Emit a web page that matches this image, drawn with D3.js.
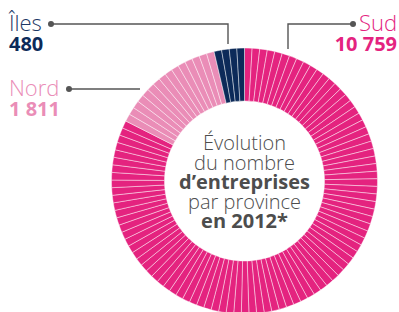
<!DOCTYPE html>
<html lang="fr">
<head>
  <meta charset="UTF-8">
  <title>Entreprises par province 2012</title>
  <style>
    body { margin: 0; background: #fff; font-family: "Open Sans", Arial, sans-serif; }
    svg { display: block; }
  </style>
</head>
<body>
<svg width="399" height="312"></svg>

<script src="https://d3js.org/d3.v7.min.js"></script>
<script>
  const provinces = ["Sud", "Nord", "Îles"];
  const values = [10759, 1811, 480];
  const valueLabels = ["10 759", "1 811", "480"];
  const colors = ["#e4237f", "#ea8db7", "#0c2a59"];
  const centerLines = [
    { t: "Évolution", bold: false },
    { t: "du nombre", bold: false },
    { t: "d’entreprises", bold: true },
    { t: "par province", bold: false },
    { t: "en 2012*", bold: true }
  ];
  // one small segment stands for about this many companies
  const unit = 120;

  const svg = d3.select("svg");
  const cx = 244.5, cy = 181, outerR = 133, innerR = 80;

  const g = svg.append("g").attr("transform", `translate(${cx},${cy})`);

  const pie = d3.pie().sort(null).value(d => d.value);
  const slices = pie(provinces.map((p, i) => ({ name: p, value: values[i], color: colors[i] })));

  const arc = d3.arc().innerRadius(innerR).outerRadius(outerR);

  // split every slice into equal thin segments
  const segs = [];
  slices.forEach(s => {
    const n = Math.max(1, Math.round(s.data.value / unit));
    const step = (s.endAngle - s.startAngle) / n;
    for (let k = 0; k < n; k++) {
      segs.push({ startAngle: s.startAngle + k * step, endAngle: s.startAngle + (k + 1) * step, color: s.data.color });
    }
  });

  g.selectAll("path.seg")
    .data(segs)
    .enter()
    .append("path")
    .attr("class", "seg")
    .attr("d", arc)
    .attr("fill", d => d.color)
    .attr("stroke", "rgba(255,255,255,0.55)")
    .attr("stroke-width", 0.8);

  // centre text
  const ct = g.append("text")
    .attr("text-anchor", "middle")
    .attr("fill", "#4d4d4d")
    .attr("font-size", "20px");
  centerLines.forEach((l, i) => {
    ct.append("tspan")
      .attr("x", 0)
      .attr("y", -31 + i * 19.5)
      .attr("font-weight", l.bold ? 700 : 300)
      .text(l.t);
  });

  // labels with leader lines
  const labels = [
    { i: 0, x: 397, y: 31, anchor: "end", nameColor: "#e4237f", valColor: "#e4237f",
      line: [[353, 24], [288, 24], [288, 49]] },
    { i: 1, x: 9, y: 96, anchor: "start", nameColor: "#ea8db7", valColor: "#ea8db7",
      line: [[69, 89], [140, 89]] },
    { i: 2, x: 9, y: 31, anchor: "start", nameColor: "#1d3866", valColor: "#0c2a59",
      line: [[51, 24], [228, 24], [228, 44]] }
  ];

  labels.forEach(l => {
    svg.append("path")
      .attr("d", d3.line()(l.line))
      .attr("fill", "none")
      .attr("stroke", "#555")
      .attr("stroke-width", 1.4);
    svg.append("circle")
      .attr("cx", l.line[0][0])
      .attr("cy", l.line[0][1])
      .attr("r", 3)
      .attr("fill", "#555");
    svg.append("text")
      .attr("x", l.x)
      .attr("y", l.y)
      .attr("text-anchor", l.anchor)
      .attr("font-size", "22px")
      .attr("font-weight", 300)
      .attr("fill", l.nameColor)
      .text(provinces[l.i]);
    svg.append("text")
      .attr("x", l.x)
      .attr("y", l.y + 19.5)
      .attr("text-anchor", l.anchor)
      .attr("font-size", "20px")
      .attr("font-weight", 700)
      .attr("fill", l.valColor)
      .text(valueLabels[l.i]);
  });
</script>
</body>
</html>
